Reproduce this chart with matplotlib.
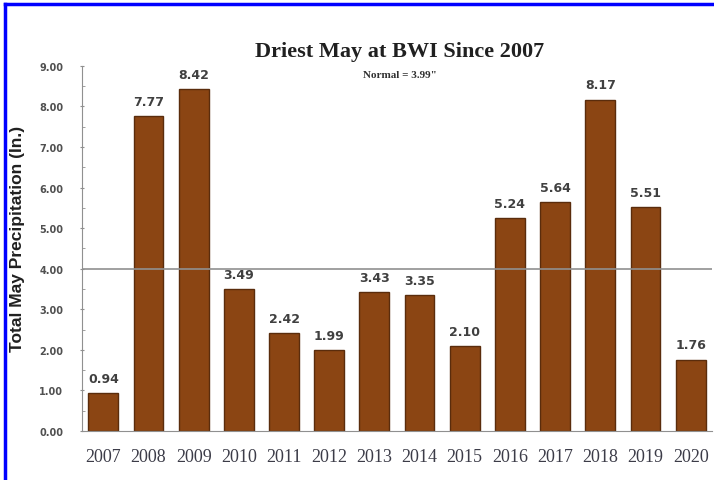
import numpy as np
import matplotlib.pyplot as plt
from matplotlib.lines import Line2D
from matplotlib.ticker import MultipleLocator

years = ['2007', '2008', '2009', '2010', '2011', '2012', '2013',
         '2014', '2015', '2016', '2017', '2018', '2019', '2020']
precip = [0.94, 7.77, 8.42, 3.49, 2.42, 1.99, 3.43,
          3.35, 2.10, 5.24, 5.64, 8.17, 5.51, 1.76]
normal = 3.99

fig = plt.figure(figsize=(7.14, 4.81), dpi=100)
ax = fig.add_axes([0.115, 0.102, 0.882, 0.759])

x = np.arange(len(years))
ax.bar(x, precip, width=0.66, color='#8B4513', edgecolor='#5a2c0c', linewidth=1, zorder=2)
ax.axhline(normal, color='#909090', linewidth=1.2, zorder=3)

for xi, v in zip(x, precip):
    ax.text(xi, v + 0.2, f'{v:.2f}', ha='center', va='bottom', fontsize=9,
            fontweight='bold', color='#404040', family='DejaVu Sans')

ax.set_xlim(-0.47, len(years) - 0.53)
ax.set_ylim(0, 9)
ax.yaxis.set_minor_locator(MultipleLocator(0.5))
ax.set_yticks(np.arange(0, 9.5, 1))
ax.set_yticklabels([f'{v:.2f}' for v in np.arange(0, 9.5, 1)], fontsize=7,
                   fontweight='bold', color='#505050')
ax.tick_params(axis='y', which='major', length=3, direction='inout', color='#909090', pad=12)
ax.tick_params(axis='y', which='minor', length=2, direction='in', color='#909090')
ax.set_xticks(x)
ax.set_xticklabels(years, fontsize=13, color='#3c3c48', family='Liberation Serif')
ax.tick_params(axis='x', length=0, pad=12)

for s in ['top', 'right']:
    ax.spines[s].set_visible(False)
ax.spines['left'].set_color('#909090')
ax.spines['bottom'].set_color('#909090')

ax.set_ylabel('Total May Precipitation (In.)', fontsize=12.5, fontweight='bold',
              color='#202020', family='Liberation Sans')
ax.yaxis.set_label_coords(-0.09, 0.53)

fig.text(0.56, 0.892, 'Driest May at BWI Since 2007', ha='center', va='center',
         fontsize=16, fontweight='bold', family='Liberation Serif', color='#202020')
fig.text(0.56, 0.843, 'Normal = 3.99"', ha='center', va='center',
         fontsize=8, fontweight='bold', family='Liberation Serif', color='#303030')

fig.add_artist(Line2D([0.007, 0.007], [0, 0.99], color='blue', linewidth=2.5,
                      transform=fig.transFigure))
fig.add_artist(Line2D([0.007, 1], [0.99, 0.99], color='blue', linewidth=2.5,
                      transform=fig.transFigure))

fig.savefig('out.png', dpi=100)
